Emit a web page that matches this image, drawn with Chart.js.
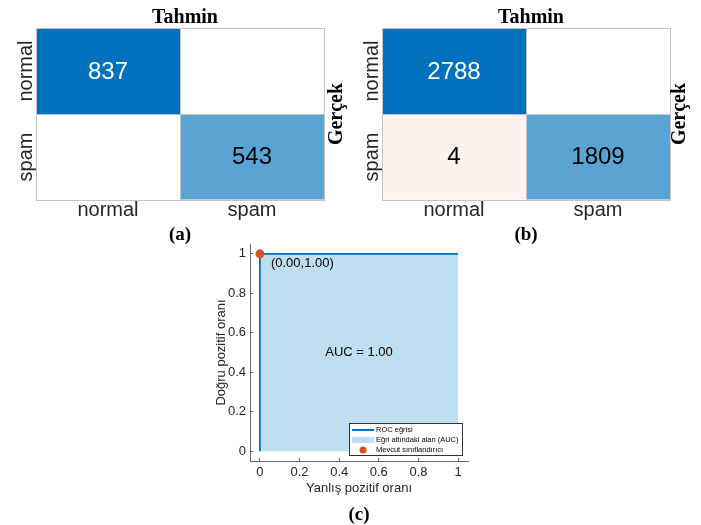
<!DOCTYPE html>
<html lang="tr">
<head>
<meta charset="utf-8">
<title>Karışıklık matrisleri ve ROC eğrisi</title>
<script src="https://cdn.jsdelivr.net/npm/chart.js@4.4.0/dist/chart.umd.min.js"></script>
<style>
    body { margin: 0; background: #fff; width: 701px; height: 525px; position: relative; overflow: hidden; }
    .panel { position: absolute; }
    .panel canvas { display: block; }
</style>
</head>
<body>
<div class="panel" style="left:0;top:0;width:350px;height:245px"><canvas id="cmA"></canvas></div>
<div class="panel" style="left:350px;top:0;width:351px;height:245px"><canvas id="cmB"></canvas></div>
<div class="panel" style="left:180px;top:238px;width:340px;height:287px"><canvas id="rocChart"></canvas></div>

<script>
// --- Data ---
const classLabels = ['normal', 'spam'];
// rows = actual (Gerçek), columns = predicted (Tahmin)
const countsA = [[837, 0], [0, 543]];
const countsB = [[2788, 0], [4, 1809]];

const rocFpr = [0, 0, 1];
const rocTpr = [0, 1, 1];
const operatingPoint = { x: 0, y: 1 };
const aucValue = 1.00;
const rocTicks = [0, 0.2, 0.4, 0.6, 0.8, 1];

// --- Styles ---
const SANS = '"Liberation Sans", Arial, sans-serif';
const SERIF = '"Liberation Serif", "Times New Roman", serif';
const textColor = '#262626';
const gridColor = '#c4c4c4';
const diagRgb = [0, 114, 189];
const offDiagRgb = [217, 83, 25];

const mix = (rgb, t) => 'rgb(' + rgb.map(c => Math.round(255 + (c - 255) * t)).join(',') + ')';

// diagonal cells shaded by value, non-zero errors get a faint tint
const cellShade = (counts, r, c) => {
    const v = counts[r][c];
    if (r === c) {
        const maxDiag = Math.max(...counts.map((row, i) => row[i]));
        return v / maxDiag;
    }
    return v > 0 ? 0.07 : 0;
};

// --- Confusion matrix labels plugin ---
const cmTextPlugin = {
    id: 'cmText',
    afterDraw(chart, args, opts) {
        const { ctx, chartArea: a, scales: { x, y } } = chart;
        ctx.save();
        ctx.textAlign = 'center';
        ctx.textBaseline = 'middle';

        // counts in cells
        ctx.font = '24px ' + SANS;
        chart.data.datasets.forEach((ds, r) => {
            chart.getDatasetMeta(r).data.forEach((bar, c) => {
                const v = ds.counts[c];
                if (!v) return;
                ctx.fillStyle = ds.shades[c] > 0.8 ? '#ffffff' : '#000000';
                ctx.fillText(String(v), bar.x, (bar.y + bar.base) / 2 + 1);
            });
        });

        // predicted class labels (bottom)
        ctx.font = '20px ' + SANS;
        ctx.fillStyle = textColor;
        classLabels.forEach((lab, i) => {
            ctx.fillText(lab, x.getPixelForValue(i), a.bottom + 10);
        });

        // actual class labels (left, rotated)
        classLabels.forEach((lab, r) => {
            const yMid = y.getPixelForValue(classLabels.length - r - 0.5);
            ctx.save();
            ctx.translate(a.left - 10, yMid);
            ctx.rotate(-Math.PI / 2);
            ctx.fillText(lab, 0, 0);
            ctx.restore();
        });

        // titles
        ctx.fillStyle = '#000';
        ctx.font = 'bold 20px ' + SERIF;
        ctx.textBaseline = 'alphabetic';
        ctx.fillText('Tahmin', (a.left + a.right) / 2 + 5, a.top - 5);

        ctx.save();
        ctx.textBaseline = 'middle';
        ctx.translate(a.right + opts.sideOffset, (a.top + a.bottom) / 2);
        ctx.rotate(-Math.PI / 2);
        ctx.fillText('Gerçek', 0, 0);
        ctx.restore();

        ctx.font = 'bold 19px ' + SERIF;
        ctx.textBaseline = 'middle';
        ctx.fillText(opts.caption, (a.left + a.right) / 2, a.bottom + 35);
        ctx.restore();
    }
};

const makeMatrix = (canvasId, counts, caption, padding, sideOffset) => {
    const n = classLabels.length;
    const datasets = counts.map((row, r) => {
        const shades = row.map((v, c) => cellShade(counts, r, c));
        return {
            label: classLabels[r],
            data: row.map(() => [n - r - 1, n - r]),
            counts: row,
            shades: shades,
            backgroundColor: shades.map((t, c) => mix(r === c ? diagRgb : offDiagRgb, t)),
            borderWidth: 0,
            inflateAmount: 0,
            grouped: false,
            barPercentage: 1,
            categoryPercentage: 1
        };
    });

    return new Chart(document.getElementById(canvasId), {
        type: 'bar',
        data: { labels: classLabels, datasets: datasets },
        options: {
            responsive: true,
            maintainAspectRatio: false,
            animation: false,
            events: [],
            layout: { padding: padding },
            plugins: {
                legend: { display: false },
                tooltip: { enabled: false },
                cmText: { caption: caption, sideOffset: sideOffset }
            },
            scales: {
                x: {
                    grid: { offset: true, color: gridColor, drawTicks: false, z: 1 },
                    border: { color: gridColor, z: 1 },
                    ticks: { display: false }
                },
                y: {
                    min: 0,
                    max: n,
                    afterBuildTicks: s => { s.ticks = [0, 1, 2].map(v => ({ value: v })); },
                    grid: { color: gridColor, drawTicks: false, z: 1 },
                    border: { color: gridColor, z: 1 },
                    ticks: { display: false }
                }
            }
        },
        plugins: [cmTextPlugin]
    });
};

makeMatrix('cmA', countsA, '(a)', { left: 36, top: 28, right: 26, bottom: 45 }, 13);
makeMatrix('cmB', countsB, '(b)', { left: 32, top: 28, right: 31, bottom: 45 }, 10);

// --- ROC chart ---
const rocPoints = rocFpr.map((f, i) => ({ x: f, y: rocTpr[i] }));

const rocExtrasPlugin = {
    id: 'rocExtras',
    afterDraw(chart) {
        const { ctx, chartArea: a, scales: { x, y } } = chart;
        ctx.save();

        // annotations
        ctx.fillStyle = '#000';
        ctx.font = '13px ' + SANS;
        ctx.textBaseline = 'middle';
        ctx.textAlign = 'left';
        const label = '(' + operatingPoint.x.toFixed(2) + ',' + operatingPoint.y.toFixed(2) + ')';
        ctx.fillText(label, x.getPixelForValue(operatingPoint.x) + 11, y.getPixelForValue(operatingPoint.y) + 10);
        ctx.textAlign = 'center';
        ctx.fillText('AUC = ' + aucValue.toFixed(2), x.getPixelForValue(0.5), y.getPixelForValue(0.5));

        // legend box (lower right, inside axes)
        const bx = a.right - 119, by = a.bottom - 38, bw = 113, bh = 32;
        ctx.fillStyle = '#fff';
        ctx.fillRect(bx, by, bw, bh);
        ctx.strokeStyle = '#333';
        ctx.lineWidth = 1;
        ctx.strokeRect(bx + 0.5, by + 0.5, bw, bh);
        ctx.font = '7.5px ' + SANS;
        ctx.textAlign = 'left';
        chart.data.datasets.forEach((ds, i) => {
            const ry = by + 7 + i * 10;
            if (ds.legendKind === 'line') {
                ctx.strokeStyle = ds.borderColor;
                ctx.lineWidth = 2;
                ctx.beginPath();
                ctx.moveTo(bx + 3, ry);
                ctx.lineTo(bx + 25, ry);
                ctx.stroke();
            } else if (ds.legendKind === 'area') {
                ctx.fillStyle = ds.backgroundColor;
                ctx.fillRect(bx + 3, ry - 3, 22, 6);
            } else {
                ctx.fillStyle = ds.pointBackgroundColor;
                ctx.beginPath();
                ctx.arc(bx + 14, ry, 3.5, 0, Math.PI * 2);
                ctx.fill();
            }
            ctx.fillStyle = '#000';
            ctx.fillText(ds.label, bx + 27, ry);
        });

        // caption
        ctx.font = 'bold 19px ' + SERIF;
        ctx.textAlign = 'center';
        ctx.fillText('(c)', x.getPixelForValue(0.5), a.bottom + 54);
        ctx.restore();
    }
};

const tickFmt = v => String(+v.toFixed(1));

new Chart(document.getElementById('rocChart'), {
    type: 'line',
    data: {
        datasets: [
            {
                label: 'ROC eğrisi',
                legendKind: 'line',
                data: rocPoints,
                borderColor: '#0072BD',
                borderWidth: 1.8,
                pointRadius: 0,
                fill: false,
                order: 2
            },
            {
                label: 'Eğri altındaki alan (AUC)',
                legendKind: 'area',
                data: rocPoints,
                borderWidth: 0,
                borderColor: 'rgba(0,0,0,0)',
                backgroundColor: '#BEDEF2',
                pointRadius: 0,
                fill: { value: 0 },
                order: 3
            },
            {
                label: 'Mevcut sınıflandırıcı',
                legendKind: 'point',
                data: [operatingPoint],
                showLine: false,
                pointRadius: 4.5,
                pointBackgroundColor: '#D95319',
                pointBorderWidth: 0,
                order: 1
            }
        ]
    },
    options: {
        responsive: true,
        maintainAspectRatio: false,
        animation: false,
        events: [],
        layout: { padding: { left: 30, top: 6, right: 52, bottom: 25 } },
        plugins: { legend: { display: false }, tooltip: { enabled: false } },
        scales: {
            x: {
                type: 'linear',
                min: -0.05,
                max: 1.05,
                afterBuildTicks: s => { s.ticks = rocTicks.map(v => ({ value: v })); },
                afterFit: s => { s.height = 39; s.paddingLeft = 0; s.paddingRight = 0; },
                grid: { drawOnChartArea: false, tickLength: -3, color: '#666' },
                border: { color: '#666' },
                ticks: { padding: 7, color: textColor, font: { family: SANS, size: 13 }, callback: tickFmt },
                title: { display: true, text: 'Yanlış pozitif oranı', color: textColor, font: { family: SANS, size: 13 } }
            },
            y: {
                type: 'linear',
                min: -0.05,
                max: 1.05,
                afterBuildTicks: s => { s.ticks = rocTicks.map(v => ({ value: v })); },
                afterFit: s => { s.width = 40; s.paddingTop = 0; s.paddingBottom = 0; },
                grid: { drawOnChartArea: false, tickLength: -3, color: '#666' },
                border: { color: '#666' },
                ticks: { padding: 7, color: textColor, font: { family: SANS, size: 13 }, callback: tickFmt },
                title: { display: true, text: 'Doğru pozitif oranı', color: textColor, font: { family: SANS, size: 13 } }
            }
        }
    },
    plugins: [rocExtrasPlugin]
});
</script>
</body>
</html>
